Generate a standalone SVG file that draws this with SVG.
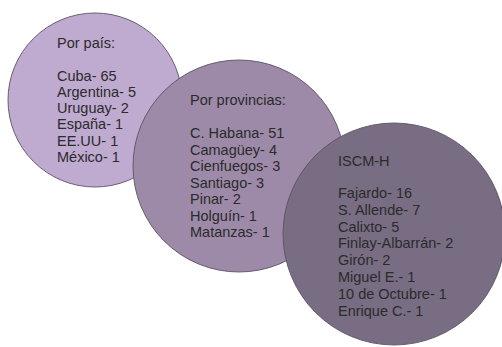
<svg xmlns="http://www.w3.org/2000/svg" width="502" height="347" viewBox="0 0 502 347">
<style>
.c{stroke:#5a5262;stroke-width:0.9}
.t{font-family:"Liberation Sans",Arial,sans-serif;font-size:14.5px;fill:#2b2b2b}
</style>
<rect width="502" height="347" fill="#ffffff"/>
<g id="node-pais">
<circle class="c" cx="95" cy="100" r="87" fill="#bfaad0"/>
<text class="t" x="57" y="47.5">Por país:</text>
<text class="t" x="57" y="80.5">Cuba- 65</text>
<text class="t" x="57" y="96.8">Argentina- 5</text>
<text class="t" x="57" y="113">Uruguay- 2</text>
<text class="t" x="57" y="129.3">España- 1</text>
<text class="t" x="57" y="145.6">EE.UU- 1</text>
<text class="t" x="57" y="162">México- 1</text>
</g>
<g id="node-provincias">
<circle class="c" cx="239" cy="166" r="106" fill="#9d8aa8"/>
<text class="t" x="190" y="105">Por provincias:</text>
<text class="t" x="190" y="138">C. Habana- 51</text>
<text class="t" x="190" y="154.5">Camagüey- 4</text>
<text class="t" x="190" y="171">Cienfuegos- 3</text>
<text class="t" x="190" y="187.5">Santiago- 3</text>
<text class="t" x="190" y="204">Pinar- 2</text>
<text class="t" x="190" y="220.5">Holguín- 1</text>
<text class="t" x="190" y="237">Matanzas- 1</text>
</g>
<g id="node-iscmh">
<circle class="c" cx="394" cy="234" r="111" fill="#786d82"/>
<text class="t" x="338" y="166">ISCM-H</text>
<text class="t" x="338" y="198">Fajardo- 16</text>
<text class="t" x="338" y="214.8">S. Allende- 7</text>
<text class="t" x="338" y="231.6">Calixto- 5</text>
<text class="t" x="338" y="248.4">Finlay-Albarrán- 2</text>
<text class="t" x="338" y="265.2">Girón- 2</text>
<text class="t" x="338" y="282">Miguel E.- 1</text>
<text class="t" x="338" y="298.8">10 de Octubre- 1</text>
<text class="t" x="338" y="315.6">Enrique C.- 1</text>
</g>
<g id="connectors"></g>
</svg>
